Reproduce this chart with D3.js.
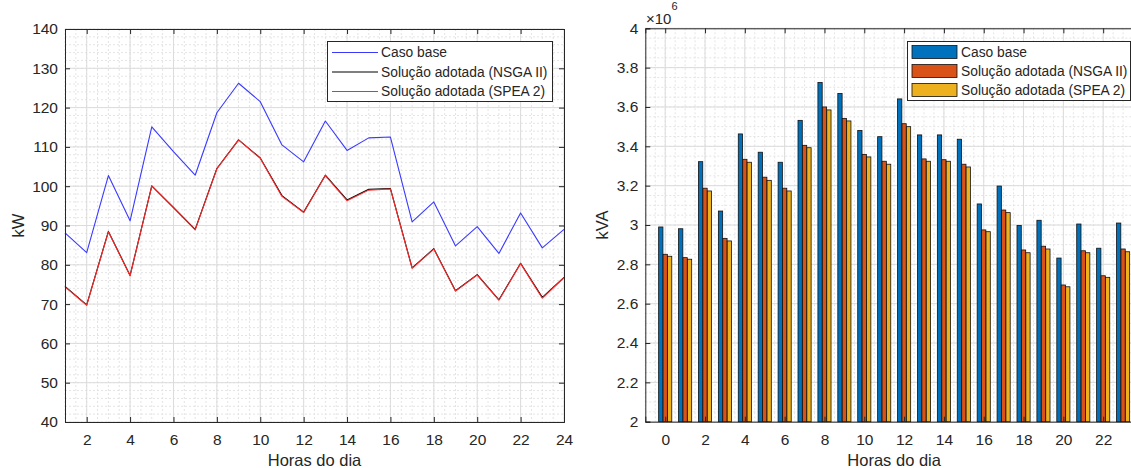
<!DOCTYPE html>
<html>
<head>
<meta charset="utf-8">
<script src="https://cdn.jsdelivr.net/npm/d3@7"></script>
<style>
  body { margin: 0; background: #fff; }
  text { font-family: "Liberation Sans", Arial, sans-serif; fill: #262626; }
</style>
</head>
<body>
<svg id="chart" width="1131" height="468"></svg>
<script>
// hourly demand (kW), left panel
const hours = [1, 2, 3, 4, 5, 6, 7, 8, 9, 10, 11, 12, 13, 14, 15, 16, 17, 18, 19, 20, 21, 22, 23, 24];
const casoBase = [88.1, 83.1, 102.7, 91.2, 115.1, 108.8, 102.8, 118.7, 126.2, 121.5, 110.5, 106.2, 116.6, 109.1, 112.3, 112.5, 90.9, 96.0, 84.8, 89.7, 82.9, 93.2, 84.3, 89.0];
const nsga = [74.5, 69.8, 88.5, 77.3, 100.1, 94.6, 89.0, 104.5, 111.8, 107.2, 97.6, 93.4, 102.8, 96.5, 99.2, 99.4, 79.2, 84.1, 73.4, 77.5, 71.1, 80.4, 71.7, 76.8];
const spea = [74.4, 69.7, 88.4, 77.2, 100.0, 94.5, 88.9, 104.4, 111.8, 107.1, 97.4, 93.3, 102.7, 96.3, 99.0, 99.3, 79.1, 84.0, 73.3, 77.4, 71.0, 80.3, 71.5, 76.7];

// apparent power (kVA x10^6), right panel
const barHours = [0, 1, 2, 3, 4, 5, 6, 7, 8, 9, 10, 11, 12, 13, 14, 15, 16, 17, 18, 19, 20, 21, 22, 23];
const kvaBase = [2.990, 2.981, 3.322, 3.071, 3.463, 3.370, 3.319, 3.532, 3.725, 3.669, 3.481, 3.449, 3.641, 3.458, 3.458, 3.436, 3.107, 3.198, 2.998, 3.024, 2.832, 3.005, 2.882, 3.010];
const kvaNsga = [2.851, 2.834, 3.187, 2.932, 3.334, 3.243, 3.187, 3.405, 3.600, 3.542, 3.359, 3.324, 3.515, 3.336, 3.332, 3.309, 2.975, 3.076, 2.873, 2.892, 2.695, 2.869, 2.742, 2.878];
const kvaSpea = [2.841, 2.826, 3.173, 2.919, 3.319, 3.227, 3.173, 3.393, 3.585, 3.529, 3.346, 3.309, 3.500, 3.324, 3.324, 3.295, 2.966, 3.063, 2.859, 2.878, 2.686, 2.859, 2.734, 2.864];

const leftXTicks = [2, 4, 6, 8, 10, 12, 14, 16, 18, 20, 22, 24];
const leftYTicks = [40, 50, 60, 70, 80, 90, 100, 110, 120, 130, 140];
const rightXTicks = [0, 2, 4, 6, 8, 10, 12, 14, 16, 18, 20, 22];
const rightYTicks = [2, 2.2, 2.4, 2.6, 2.8, 3, 3.2, 3.4, 3.6, 3.8, 4];

const seriesNames = ['Caso base', 'Solução adotada (NSGA II)', 'Solução adotada (SPEA 2)'];
const lineColors = ['#3a3aff', '#000000', '#ff2a2a'];
const barColors = ['#0072BD', '#D95319', '#EDB120'];

const svg = d3.select('#chart');
const axisColor = '#262626';

const leftBox = { left: 65, right: 564, top: 29, bottom: 422 };
const rightBox = { left: 645.3, right: 1143, top: 28.3, bottom: 421.7 };

const xLeft = d3.scaleLinear().domain([1, 24]).range([leftBox.left, leftBox.right]);
const yLeft = d3.scaleLinear().domain([40, 140]).range([leftBox.bottom, leftBox.top]);
const xRight = d3.scaleLinear().domain([-1, 24]).range([rightBox.left, rightBox.right]);
const yRight = d3.scaleLinear().domain([2, 4]).range([rightBox.bottom, rightBox.top]);

function drawGrid(g, x, y, box, xMinorStep, yMinorStep) {
  const xMinor = d3.range(x.domain()[0], x.domain()[1] + 1e-9, xMinorStep);
  const yMinor = d3.range(y.domain()[0], y.domain()[1] + 1e-9, yMinorStep);
  g.append('g').selectAll('line').data(xMinor).enter().append('line')
    .attr('x1', d => x(d)).attr('x2', d => x(d))
    .attr('y1', box.top).attr('y2', box.bottom)
    .attr('stroke', '#e4e4e4').attr('stroke-dasharray', '2,2');
  g.append('g').selectAll('line').data(yMinor).enter().append('line')
    .attr('y1', d => y(d)).attr('y2', d => y(d))
    .attr('x1', box.left).attr('x2', box.right)
    .attr('stroke', '#e4e4e4').attr('stroke-dasharray', '2,2');
}

function drawMajorGrid(g, x, y, box, xTicks, yTicks) {
  g.append('g').selectAll('line').data(xTicks).enter().append('line')
    .attr('x1', d => x(d)).attr('x2', d => x(d))
    .attr('y1', box.top).attr('y2', box.bottom)
    .attr('stroke', '#dcdcdc');
  g.append('g').selectAll('line').data(yTicks).enter().append('line')
    .attr('y1', d => y(d)).attr('y2', d => y(d))
    .attr('x1', box.left).attr('x2', box.right)
    .attr('stroke', '#dcdcdc');
}

function drawAxes(g, x, y, box, xTicks, yTicks, yFormat) {
  const xAxis = d3.axisBottom(x).tickValues(xTicks).tickSize(-5).tickPadding(12);
  const yAxis = d3.axisLeft(y).tickValues(yTicks).tickSize(-5).tickPadding(7).tickFormat(yFormat);
  const gx = g.append('g').attr('transform', `translate(0,${box.bottom})`).call(xAxis);
  const gy = g.append('g').attr('transform', `translate(${box.left},0)`).call(yAxis);
  const gt = g.append('g').attr('transform', `translate(0,${box.top})`)
    .call(d3.axisTop(x).tickValues(xTicks).tickSize(-5).tickFormat(''));
  const gr = g.append('g').attr('transform', `translate(${box.right},0)`)
    .call(d3.axisRight(y).tickValues(yTicks).tickSize(-5).tickFormat(''));
  [gx, gy, gt, gr].forEach(a => {
    a.select('.domain').attr('stroke', axisColor);
    a.selectAll('.tick line').attr('stroke', axisColor);
    a.selectAll('.tick text').style('font-size', '15.5px').attr('fill', axisColor)
      .style('font-family', '"Liberation Sans", Arial, sans-serif');
  });
}

function drawLabels(g, box, yLabel, yLabelX) {
  g.append('text')
    .attr('x', (box.left + box.right) / 2).attr('y', 465.5)
    .attr('text-anchor', 'middle').style('font-size', '16.5px')
    .text('Horas do dia');
  g.append('text')
    .attr('transform', `translate(${yLabelX},${(box.top + box.bottom) / 2}) rotate(-90)`)
    .attr('text-anchor', 'middle').style('font-size', '16.5px')
    .text(yLabel);
}

// ---------- left panel ----------
const leftG = svg.append('g').attr('id', 'left-panel');
drawGrid(leftG, xLeft, yLeft, leftBox, 0.5, 2);
drawMajorGrid(leftG, xLeft, yLeft, leftBox, leftXTicks, leftYTicks);

const line = d3.line().x((d, i) => xLeft(hours[i])).y(d => yLeft(d));
[casoBase, nsga, spea].forEach((s, k) => {
  leftG.append('path')
    .attr('fill', 'none')
    .attr('stroke', lineColors[k])
    .attr('stroke-width', 1.1)
    .attr('stroke-linejoin', 'round')
    .attr('d', line(s));
});
drawAxes(leftG, xLeft, yLeft, leftBox, leftXTicks, leftYTicks, d3.format('d'));
drawLabels(leftG, leftBox, 'kW', 23.5);

// left legend
const legL = leftG.append('g').attr('transform', 'translate(327.5,41.5)');
legL.append('rect').attr('width', 225).attr('height', 60)
  .attr('fill', '#fff').attr('stroke', axisColor).attr('stroke-width', 1);
seriesNames.forEach((name, i) => {
  const yy = 11 + i * 19.5;
  legL.append('line').attr('x1', 4.5).attr('x2', 50.5).attr('y1', yy).attr('y2', yy)
    .attr('stroke', lineColors[i]).attr('stroke-width', 1.1);
  legL.append('text').attr('x', 53.5).attr('y', yy).attr('dy', '0.35em')
    .style('font-size', '13.8px').text(name);
});

// ---------- right panel ----------
const rightG = svg.append('g').attr('id', 'right-panel');
drawGrid(rightG, xRight, yRight, rightBox, 0.5, 0.05);
drawMajorGrid(rightG, xRight, yRight, rightBox, rightXTicks, rightYTicks);

const barOffset = 0.222;
const barWidth = 0.215;
[kvaBase, kvaNsga, kvaSpea].forEach((s, k) => {
  rightG.append('g').selectAll('rect').data(s).enter().append('rect')
    .attr('x', (d, i) => xRight(barHours[i] + (k - 1) * barOffset - barWidth / 2))
    .attr('width', xRight(barWidth) - xRight(0))
    .attr('y', d => yRight(d))
    .attr('height', d => yRight(2) - yRight(d))
    .attr('fill', barColors[k])
    .attr('stroke', '#111')
    .attr('stroke-width', 0.8);
});
drawAxes(rightG, xRight, yRight, rightBox, rightXTicks, rightYTicks, d => d3.format('~g')(d));
drawLabels(rightG, rightBox, 'kVA', 608);

// exponent label
const expo = rightG.append('text').attr('x', 646).attr('y', 24).style('font-size', '15px');
expo.append('tspan').text('×10');
expo.append('tspan').attr('dy', -14).style('font-size', '11px').text('6');

// right legend
const legR = rightG.append('g').attr('transform', 'translate(907.5,41.5)');
legR.append('rect').attr('width', 223).attr('height', 59)
  .attr('fill', '#fff').attr('stroke', axisColor).attr('stroke-width', 1);
seriesNames.forEach((name, i) => {
  const yy = 10.5 + i * 19;
  legR.append('rect').attr('x', 4.5).attr('y', yy - 6.5).attr('width', 45).attr('height', 13)
    .attr('fill', barColors[i]).attr('stroke', '#111').attr('stroke-width', 0.8);
  legR.append('text').attr('x', 53.5).attr('y', yy).attr('dy', '0.35em')
    .style('font-size', '13.8px').text(name);
});
</script>
</body>
</html>
